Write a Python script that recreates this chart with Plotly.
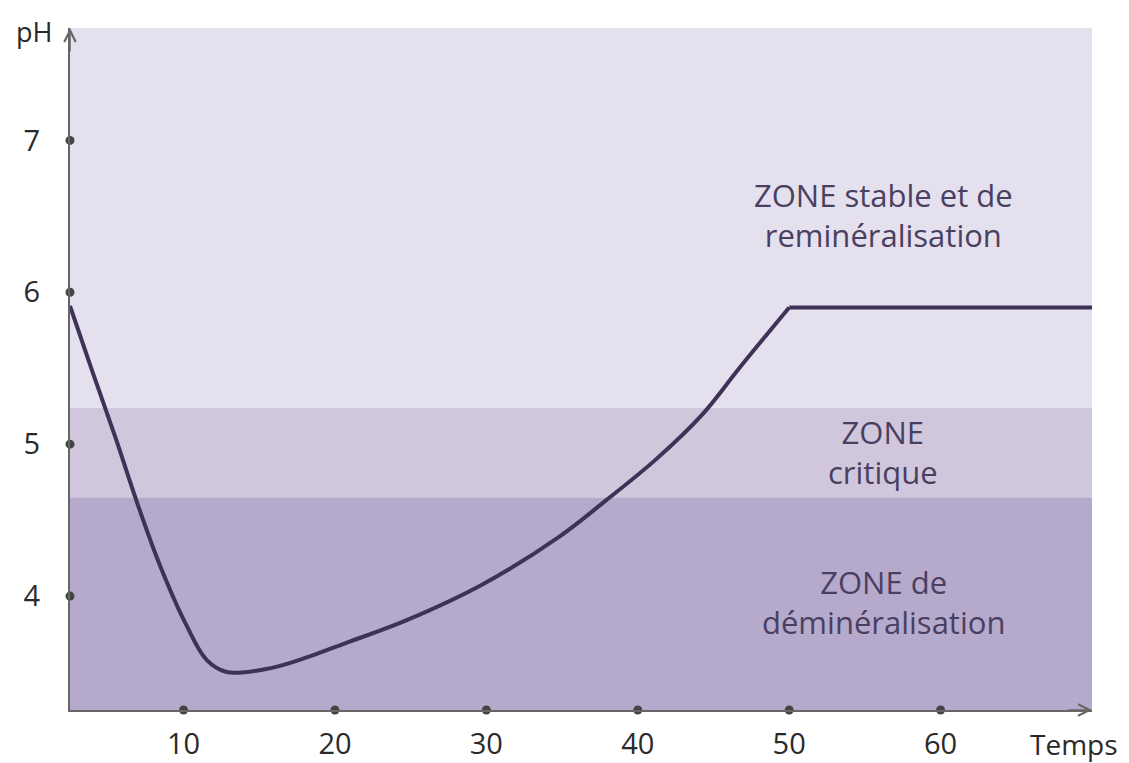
import plotly.graph_objects as go

# Data
curve_t = [2.5, 4.01, 5.55, 6.88, 8.41, 10.18, 11.52, 12.84, 15.46, 17.66, 20.97, 24.7, 29.8, 34.8, 37.9, 41.2, 44.3, 46.7, 50.0, 60.0, 70.2]
curve_ph = [5.91, 5.47, 5.03, 4.63, 4.21, 3.81, 3.58, 3.50, 3.52, 3.58, 3.70, 3.84, 4.08, 4.39, 4.63, 4.90, 5.20, 5.50, 5.90, 5.90, 5.90]
x_ticks = [10, 20, 30, 40, 50, 60]
y_ticks = [4, 5, 6, 7]
zone_bounds = [3.25, 4.65, 5.24, 7.74]
zone_labels = ["ZONE de<br>déminéralisation", "ZONE<br>critique", "ZONE stable et de<br>reminéralisation"]
zone_label_y = [3.96, 4.95, 6.51]
zone_colors = ["#B6AACC", "#D0C7DD", "#E4E0EE"]

X0, X1 = 2.5, 70.0
Y0, Y1 = 3.25, 7.74
FONT = "Open Sans"
TXT = "#4A3F60"
AX = "#666666"
LBL = "#2a2a2a"

# split curve: smooth part up to the corner at t=50, then flat plateau
corner = curve_t.index(50.0)

fig = go.Figure()

shapes = []
for i in range(3):
    shapes.append(dict(type="rect", xref="x", yref="y", x0=X0, x1=X1,
                       y0=zone_bounds[i], y1=zone_bounds[i + 1],
                       fillcolor=zone_colors[i], line=dict(width=0), layer="below"))

fig.add_trace(go.Scatter(x=curve_t[:corner + 1], y=curve_ph[:corner + 1], mode="lines",
                         line=dict(color="#3E3258", width=4, shape="spline", smoothing=1.0),
                         hoverinfo="skip", showlegend=False))
fig.add_trace(go.Scatter(x=curve_t[corner:], y=curve_ph[corner:], mode="lines",
                         line=dict(color="#3E3258", width=4),
                         hoverinfo="skip", showlegend=False))
# tick dots
fig.add_trace(go.Scatter(x=x_ticks, y=[Y0] * len(x_ticks), mode="markers",
                         marker=dict(color="#444444", size=9), cliponaxis=False,
                         showlegend=False, hoverinfo="skip"))
fig.add_trace(go.Scatter(x=[X0] * len(y_ticks), y=y_ticks, mode="markers",
                         marker=dict(color="#444444", size=9), cliponaxis=False,
                         showlegend=False, hoverinfo="skip"))

annotations = []
for lab, yy in zip(zone_labels, zone_label_y):
    annotations.append(dict(x=56.2, y=yy, xref="x", yref="y", text=lab, showarrow=False,
                            font=dict(family=FONT, size=31, color=TXT), align="center"))
annotations.append(dict(x=0, y=1, xref="paper", yref="paper", text="pH", showarrow=False,
                        xanchor="right", yanchor="middle", xshift=-16, yshift=-3,
                        font=dict(family=FONT, size=27, color=LBL)))
annotations.append(dict(x=1, y=0, xref="paper", yref="paper", text="Temps", showarrow=False,
                        xanchor="right", yanchor="middle", xshift=28, yshift=-34,
                        font=dict(family=FONT, size=28, color=LBL)))
# axis arrows
annotations.append(dict(x=X0, y=Y1, xref="x", yref="y", ax=0, ay=25, showarrow=True,
                        arrowhead=5, arrowsize=1.5, arrowwidth=1.5, arrowcolor=AX, text=""))
annotations.append(dict(x=X1, y=Y0, xref="x", yref="y", ax=-25, ay=0, showarrow=True,
                        arrowhead=5, arrowsize=1.5, arrowwidth=1.5, arrowcolor=AX, text=""))

fig.update_layout(
    width=1121, height=755,
    margin=dict(l=62, r=37, t=20, b=53, autoexpand=False),
    paper_bgcolor="white", plot_bgcolor="white",
    shapes=shapes, annotations=annotations,
    showlegend=False,
    xaxis=dict(range=[X0, X1], tickvals=x_ticks, ticks="", showgrid=False, zeroline=False,
               automargin=False,
               showline=True, linecolor=AX, linewidth=2, ticklabelstandoff=7,
               tickfont=dict(family=FONT, size=29, color=LBL)),
    yaxis=dict(range=[Y0, Y1], tickvals=y_ticks, ticks="", showgrid=False, zeroline=False,
               automargin=False,
               showline=True, linecolor=AX, linewidth=2, ticklabelstandoff=22,
               tickfont=dict(family=FONT, size=29, color=LBL)),
)

fig.write_html("out.html")
